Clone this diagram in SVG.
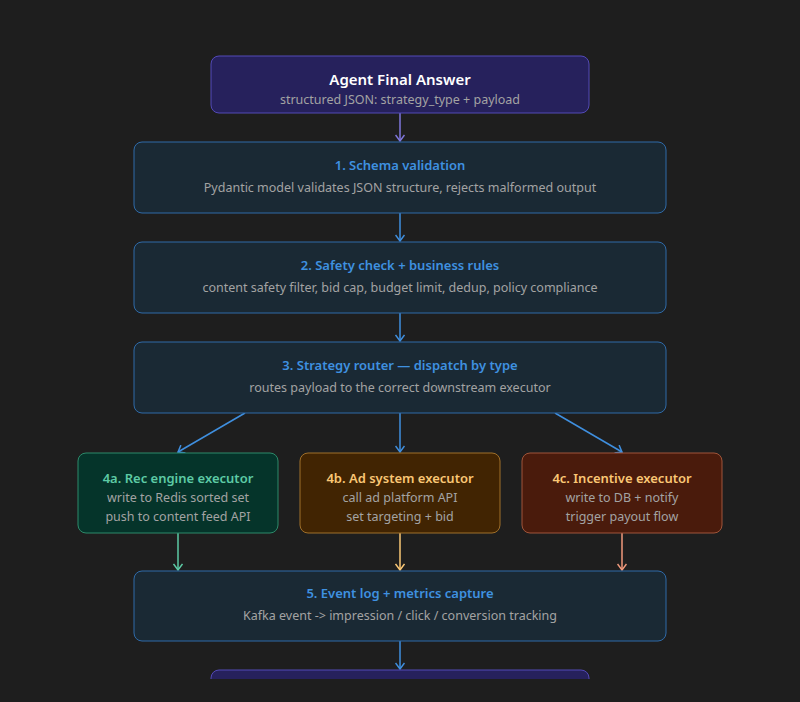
<svg xmlns="http://www.w3.org/2000/svg" width="800" height="702" viewBox="0 0 800 702">
<defs>
<style>
.t{font-family:"Noto Sans","Open Sans","Liberation Sans",sans-serif;text-anchor:middle}
.h{font-size:13px;font-weight:600}
.s{font-size:12.5px;fill:#a3a3a3}
.blue rect{fill:#1a2934;stroke:#2f6aa8;stroke-width:1}
.blue .h{fill:#3f91e0}
</style>
<marker id="ab" viewBox="0 0 10 10" refX="9" refY="5" markerWidth="10" markerHeight="10" orient="auto" markerUnits="userSpaceOnUse"><path d="M3,0.5 L9,5 L3,9.5" fill="none" stroke="context-stroke" stroke-width="1.5"/></marker>
<clipPath id="clip"><rect x="0" y="0" width="800" height="679"/></clipPath>
</defs>
<rect width="800" height="702" fill="#1e1e1e"/>
<g id="connectors" fill="none" stroke-width="1.5">
<path d="M400,113 V141" stroke="#7f77dd" marker-end="url(#ab)"/>
<path d="M400,213 V241" stroke="#3f8fdf" marker-end="url(#ab)"/>
<path d="M400,313 V341" stroke="#3f8fdf" marker-end="url(#ab)"/>
<path d="M245,413 L178,452" stroke="#3f8fdf" marker-end="url(#ab)"/>
<path d="M400,413 V452" stroke="#3f8fdf" marker-end="url(#ab)"/>
<path d="M555,413 L622,452" stroke="#3f8fdf" marker-end="url(#ab)"/>
<path d="M178,533 V570" stroke="#5dcaa5" marker-end="url(#ab)"/>
<path d="M400,533 V570" stroke="#fac775" marker-end="url(#ab)"/>
<path d="M622,533 V570" stroke="#f0997b" marker-end="url(#ab)"/>
<path d="M400,641 V669" stroke="#3f8fdf" marker-end="url(#ab)"/>
</g>
<g id="n0">
<rect x="211" y="56" width="378" height="57" rx="8" fill="#26215c" stroke="#534ab7"/>
<text class="t" x="400" y="85" font-size="15" font-weight="600" fill="#ffffff">Agent Final Answer</text>
<text class="t s" x="400" y="104">structured JSON: strategy_type + payload</text>
</g>
<g id="n1" class="blue">
<rect x="134" y="142" width="532" height="71" rx="8"/>
<text class="t h" x="400" y="170">1. Schema validation</text>
<text class="t s" x="400" y="192">Pydantic model validates JSON structure, rejects malformed output</text>
</g>
<g id="n2" class="blue">
<rect x="134" y="242" width="532" height="71" rx="8"/>
<text class="t h" x="400" y="270">2. Safety check + business rules</text>
<text class="t s" x="400" y="292">content safety filter, bid cap, budget limit, dedup, policy compliance</text>
</g>
<g id="n3" class="blue">
<rect x="134" y="342" width="532" height="71" rx="8"/>
<text class="t h" x="400" y="370">3. Strategy router — dispatch by type</text>
<text class="t s" x="400" y="392">routes payload to the correct downstream executor</text>
</g>
<g id="n4a">
<rect x="78" y="453" width="200" height="80" rx="8" fill="#05342a" stroke="#2d8a6a"/>
<text class="t h" x="178" y="483" fill="#5dcaa5">4a. Rec engine executor</text>
<text class="t s" x="178" y="502">write to Redis sorted set</text>
<text class="t s" x="178" y="521">push to content feed API</text>
</g>
<g id="n4b">
<rect x="300" y="453" width="200" height="80" rx="8" fill="#412402" stroke="#a0702a"/>
<text class="t h" x="400" y="483" fill="#fac775">4b. Ad system executor</text>
<text class="t s" x="400" y="502">call ad platform API</text>
<text class="t s" x="400" y="521">set targeting + bid</text>
</g>
<g id="n4c">
<rect x="522" y="453" width="200" height="80" rx="8" fill="#4a1b0c" stroke="#a0553a"/>
<text class="t h" x="622" y="483" fill="#fac775">4c. Incentive executor</text>
<text class="t s" x="622" y="502">write to DB + notify</text>
<text class="t s" x="622" y="521">trigger payout flow</text>
</g>
<g id="n5" class="blue">
<rect x="134" y="571" width="532" height="70" rx="8"/>
<text class="t h" x="400" y="598">5. Event log + metrics capture</text>
<text class="t s" x="400" y="620">Kafka event -&gt; impression / click / conversion tracking</text>
</g>
<g id="n6" clip-path="url(#clip)">
<rect x="211" y="670" width="378" height="57" rx="8" fill="#26215c" stroke="#534ab7"/>
</g>
</svg>
